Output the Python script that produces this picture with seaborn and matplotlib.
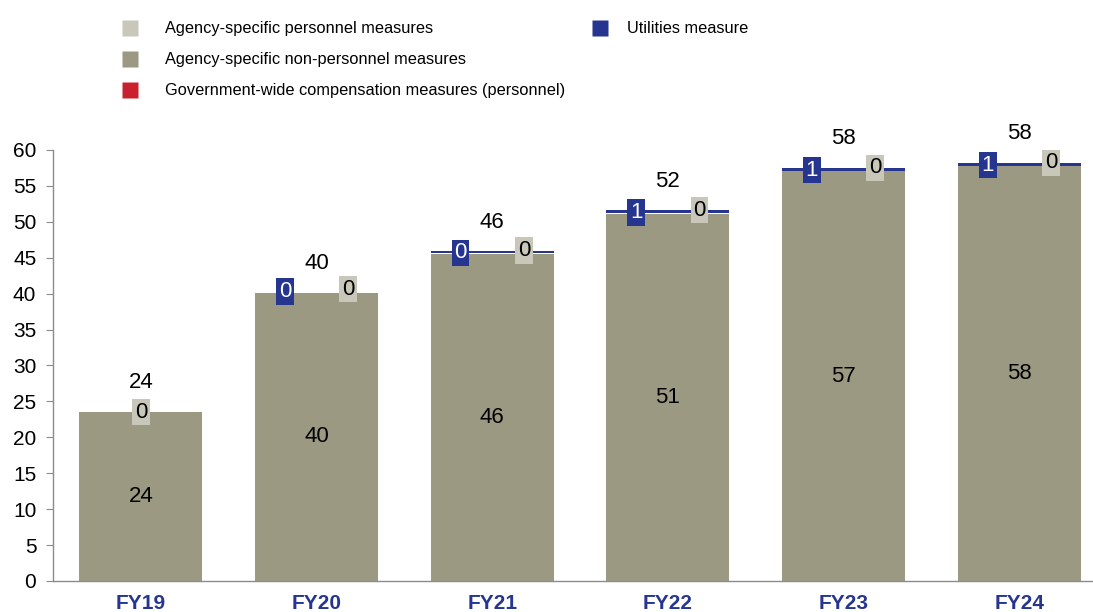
import numpy as np
import pandas as pd
import matplotlib
matplotlib.use("Agg")
import matplotlib.pyplot as plt
from matplotlib.lines import Line2D
import seaborn as sns

sns.set_style("white")
plt.rcParams['font.family'] = ['Liberation Sans', 'DejaVu Sans']
plt.rcParams['text.color'] = 'black'
plt.rcParams['ytick.color'] = 'black'

years = ["FY19", "FY20", "FY21", "FY22", "FY23", "FY24"]
non_personnel = [23.5, 40.1, 45.5, 51.1, 57.0, 57.7]
personnel = [0.0, 0.0, 0.1, 0.1, 0.1, 0.1]
utilities = [0.0, 0.05, 0.3, 0.4, 0.45, 0.45]
totals = [24, 40, 46, 52, 58, 58]
np_labels = [24, 40, 46, 51, 57, 58]
util_labels = [None, 0, 0, 1, 1, 1]
pers_labels = [0, 0, 0, 0, 0, 0]

c_pers = "#C9C7BA"
c_nonpers = "#9B9981"
c_gov = "#C8202F"
c_util = "#26358F"
c_xlab = "#26358F"

df = pd.DataFrame({"year": years, "nonpers": non_personnel,
                   "pers": personnel, "util": utilities})
df["b2"] = df["nonpers"] + df["pers"]

fig = plt.figure(figsize=(10.93, 6.12), dpi=100)
ax = fig.add_axes([0.0485, 0.0507, 0.9515, 0.7043])

sns.barplot(data=df, x="year", y="nonpers", color=c_nonpers, saturation=1,
            width=0.7, ax=ax, edgecolor="none")
sns.barplot(data=df, x="year", y="pers", bottom=df["nonpers"], color="white",
            saturation=1, width=0.7, ax=ax, edgecolor="none")
sns.barplot(data=df, x="year", y="util", bottom=df["b2"], color=c_util,
            saturation=1, width=0.7, ax=ax, edgecolor="none")

fs = 16
for i in range(len(years)):
    top = non_personnel[i]
    ax.text(i, top / 2, str(np_labels[i]), ha="center", va="center", fontsize=fs)
    ax.text(i, top + utilities[i] + 4.1, str(totals[i]), ha="center",
            va="center", fontsize=fs)
    if util_labels[i] is None:
        ax.text(i, top, str(pers_labels[i]), ha="center", va="center", fontsize=fs,
                bbox=dict(boxstyle="square,pad=0.12", fc=c_pers, ec="none"))
    else:
        ax.text(i - 0.18, top + 0.2, str(util_labels[i]), ha="center", va="center",
                fontsize=fs, color="white",
                bbox=dict(boxstyle="square,pad=0.12", fc=c_util, ec="none"))
        ax.text(i + 0.18, top + 0.5, str(pers_labels[i]), ha="center", va="center",
                fontsize=fs,
                bbox=dict(boxstyle="square,pad=0.12", fc=c_pers, ec="none"))

ax.set_xlim(-0.5, 5.42)
ax.set_ylim(0, 60)
ax.set_yticks(np.arange(0, 61, 5))
ax.set_xlabel("")
ax.set_ylabel("")
for s in ["top", "right"]:
    ax.spines[s].set_visible(False)
for s in ["left", "bottom"]:
    ax.spines[s].set_color("#8C8C8C")
    ax.spines[s].set_linewidth(1.0)
ax.tick_params(axis="y", which="major", left=True, length=5, color="#8C8C8C",
               labelcolor="black", labelsize=15, pad=7)
ax.tick_params(axis="x", bottom=False, labelsize=15, pad=6)
for lab in ax.get_xticklabels():
    lab.set_fontweight("bold")
    lab.set_color(c_xlab)

def sq(c):
    return Line2D([], [], marker="s", linestyle="none", markersize=11,
                  markerfacecolor=c, markeredgecolor="none")

fig.legend([sq(c_pers), sq(c_nonpers), sq(c_gov)],
           ["Agency-specific personnel measures",
            "Agency-specific non-personnel measures",
            "Government-wide compensation measures (personnel)"],
           loc="upper left", bbox_to_anchor=(0.0903, 0.989), frameon=False,
           fontsize=11.8, labelspacing=0.97, handletextpad=1.15)
fig.legend([sq(c_util)], ["Utilities measure"], loc="upper left",
           bbox_to_anchor=(0.5203, 0.989), frameon=False, fontsize=11.8,
           handletextpad=0.65)

fig.savefig("out.png", dpi=100)
